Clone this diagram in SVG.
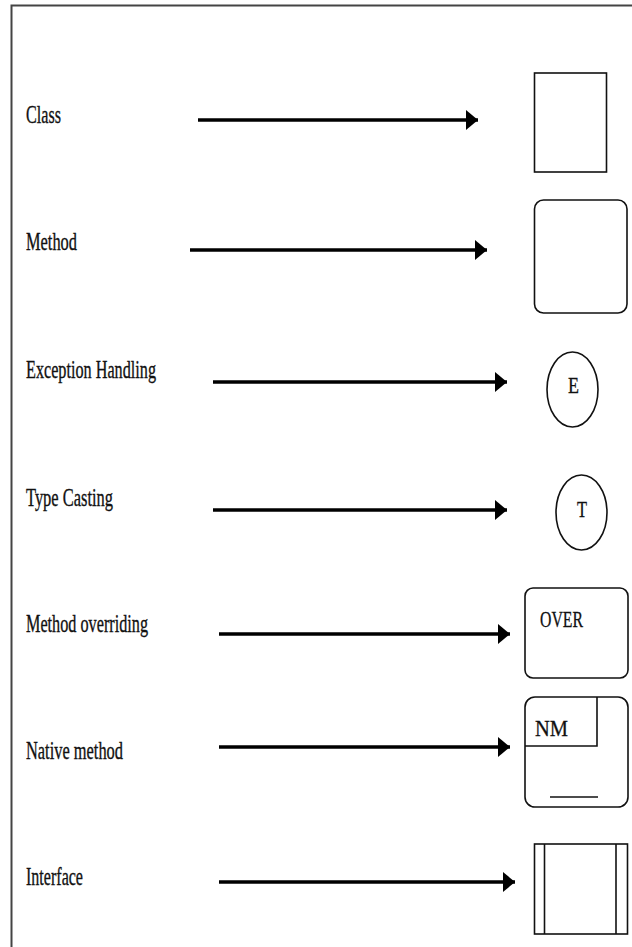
<svg xmlns="http://www.w3.org/2000/svg" width="632" height="947" viewBox="0 0 632 947">
  <style>
    .frame { fill: none; stroke: #444; stroke-width: 2; }
    .shape { fill: none; stroke: #111; stroke-width: 1.6; }
    .label { font-family: "Liberation Serif", "Times New Roman", serif; font-size: 25px; fill: #111; stroke: #111; stroke-width: 0.35; }
    .inner { font-family: "Liberation Serif", "Times New Roman", serif; font-size: 24px; fill: #111; stroke: #111; stroke-width: 0.3; }
    .arrow { stroke: #000; stroke-width: 3.4; fill: none; marker-end: url(#head); }
  </style>
  <defs>
    <marker id="head" markerUnits="userSpaceOnUse" markerWidth="14" markerHeight="24" refX="12" refY="10" orient="auto">
      <path d="M0,0 L12,10 L0,20 Z" fill="#000"/>
    </marker>
  </defs>

  <rect width="632" height="947" fill="#fff"/>
  <!-- page frame, open on the right and bottom -->
  <path class="frame" d="M11.5,947 V5.5 H632"/>

  <!-- labels -->
  <g id="label-class"><text class="label" x="26" y="123" textLength="35" lengthAdjust="spacingAndGlyphs">Class</text></g>
  <g id="label-method"><text class="label" x="26" y="250" textLength="51" lengthAdjust="spacingAndGlyphs">Method</text></g>
  <g id="label-exception"><text class="label" x="26" y="378" textLength="130" lengthAdjust="spacingAndGlyphs">Exception Handling</text></g>
  <g id="label-typecasting"><text class="label" x="26" y="506" textLength="87" lengthAdjust="spacingAndGlyphs">Type Casting</text></g>
  <g id="label-overriding"><text class="label" x="26" y="632" textLength="122" lengthAdjust="spacingAndGlyphs">Method overriding</text></g>
  <g id="label-native"><text class="label" x="26" y="759" textLength="97" lengthAdjust="spacingAndGlyphs">Native method</text></g>
  <g id="label-interface"><text class="label" x="26" y="885" textLength="57" lengthAdjust="spacingAndGlyphs">Interface</text></g>

  <!-- connectors -->
  <g id="connectors">
    <line class="arrow" x1="198" y1="120" x2="478" y2="120"/>
    <line class="arrow" x1="190" y1="250" x2="487" y2="250"/>
    <line class="arrow" x1="213" y1="382" x2="507" y2="382"/>
    <line class="arrow" x1="213" y1="510" x2="507" y2="510"/>
    <line class="arrow" x1="219" y1="634" x2="510" y2="634"/>
    <line class="arrow" x1="219" y1="747" x2="510" y2="747"/>
    <line class="arrow" x1="219" y1="882" x2="515" y2="882"/>
  </g>

  <!-- symbols -->
  <g id="sym-class">
    <rect class="shape" x="534.5" y="73" width="72" height="99"/>
  </g>
  <g id="sym-method">
    <rect class="shape" x="534.5" y="200" width="92.5" height="113" rx="9" ry="9"/>
  </g>
  <g id="sym-exception">
    <ellipse class="shape" cx="572.5" cy="389.5" rx="25.5" ry="37.5"/>
    <text class="inner" x="568" y="393" textLength="11" lengthAdjust="spacingAndGlyphs">E</text>
  </g>
  <g id="sym-typecasting">
    <ellipse class="shape" cx="581.5" cy="512.5" rx="25.5" ry="37.5"/>
    <text class="inner" x="577" y="517" textLength="10" lengthAdjust="spacingAndGlyphs">T</text>
  </g>
  <g id="sym-overriding">
    <rect class="shape" x="525" y="588" width="103" height="90" rx="8" ry="8"/>
    <text class="inner" x="540" y="627" textLength="43" lengthAdjust="spacingAndGlyphs">OVER</text>
  </g>
  <g id="sym-native">
    <rect class="shape" x="525" y="697" width="103" height="110" rx="10" ry="10"/>
    <path class="shape" d="M597,697 V746 H525"/>
    <line class="shape" x1="550" y1="797" x2="598" y2="797"/>
    <text class="inner" x="535" y="736" textLength="33" lengthAdjust="spacingAndGlyphs">NM</text>
  </g>
  <g id="sym-interface">
    <rect class="shape" x="534.5" y="844" width="93" height="90"/>
    <line class="shape" x1="544.5" y1="844" x2="544.5" y2="934"/>
    <line class="shape" x1="616" y1="844" x2="616" y2="934"/>
  </g>
</svg>
